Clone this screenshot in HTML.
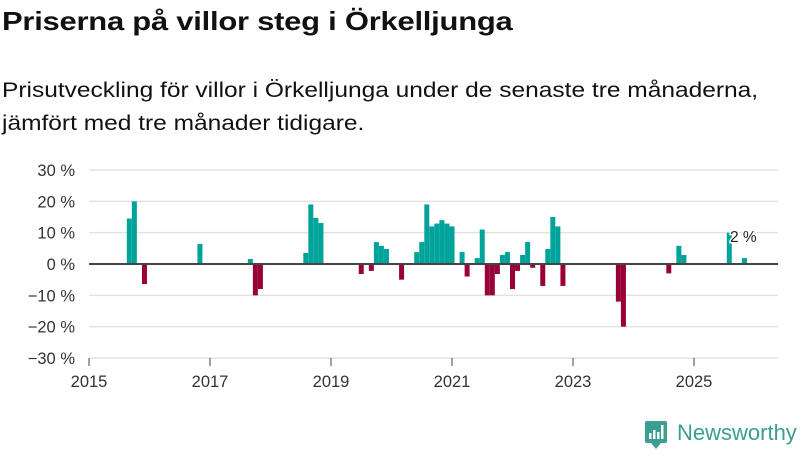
<!DOCTYPE html>
<html><head><meta charset="utf-8"><style>
body{margin:0;background:#fff;width:800px;height:450px;overflow:hidden;font-family:"Liberation Sans",sans-serif;color:#111}
h1{position:absolute;left:2px;top:6px;margin:0;font-size:26px;font-weight:bold;letter-spacing:-0.2px;transform:scaleX(1.19);transform-origin:0 0;white-space:nowrap}
p.sub{position:absolute;left:2px;top:74px;margin:0;font-size:21.5px;line-height:33px;white-space:nowrap;transform:scaleX(1.14);transform-origin:0 0}
svg{position:absolute;left:0;top:0}
</style></head><body>
<h1>Priserna på villor steg i Örkelljunga</h1>
<p class="sub">Prisutveckling för villor i Örkelljunga under de senaste tre månaderna,<br>jämfört med tre månader tidigare.</p>
<svg id="chart" width="800" height="450"></svg>
<script>
const months=[8,9,11,22,32,33,34,43,44,45,46,54,56,57,58,59,62,65,66,67,68,69,70,71,72,74,75,77,78,79,80,81,82,83,84,85,86,87,88,90,91,92,93,94,105,106,115,117,118,127,130];
const values=[14.5,20,-6.4,6.4,1.6,-10,-8,3.5,19,14.7,13.1,-3.2,-2.2,7,5.8,4.8,-5,3.8,7,19,12,12.9,14,12.9,12,3.8,-4,1.9,11,-10,-10,-3.2,2.9,3.8,-8,-2.2,2.9,7,-1.2,-7,4.8,15,12,-7,-12,-20,-3,5.8,2.9,10,1.9];
const yTicks=[30,20,10,0,-10,-20,-30];
const xTickYears=[2015,2017,2019,2021,2023,2025];
const NS="http://www.w3.org/2000/svg";
const svg=document.getElementById('chart');
const x=m=>89+m*60.5/12;
const y=v=>264-v*3.133;
function el(t,a,p){const e=document.createElementNS(NS,t);for(const k in a)e.setAttribute(k,a[k]);(p||svg).appendChild(e);return e;}
yTicks.forEach(t=>{
  const g=el('line',{x1:89,x2:778,y1:y(t),y2:y(t),stroke:'#e2e2e2','stroke-width':1.5});
  
  
  const lb=el('text',{x:75,y:y(t)+6,'text-anchor':'end','font-size':16.5,fill:'#333'});
  lb.textContent=(t<0?'−'+(-t):t)+' %';
  
  
});
xTickYears.forEach(yr=>{
  const xx=x((yr-2015)*12);
  const tk=el('line',{x1:xx,x2:xx,y1:358,y2:366,stroke:'#444','stroke-width':1});
  
  
  const lb=el('text',{x:xx,y:387,'text-anchor':'middle','font-size':16.5,fill:'#333'});
  lb.textContent=yr;
  
  
});
months.forEach((m,i)=>{
  const v=values[i];
  const r=el('rect',{x:x(m)-2.5,width:5,y:v>=0?y(v):y(0),height:Math.abs(y(v)-y(0)),fill:v>=0?'#00a39a':'#990038'});
  
  
});
const z=el('line',{x1:89,x2:778,y1:y(0),y2:y(0),stroke:'#444','stroke-width':2});


const lbl=el('text',{x:730,y:242,'font-size':15.5,fill:'#222',stroke:'#fff','stroke-width':3,'paint-order':'stroke'});
lbl.textContent='2 %';


const lg=el('g',{});


el('rect',{x:645,y:421,width:22,height:22,rx:2,fill:'#3a9e92'},lg);
el('path',{d:'M651 443 L656 449 L661 443 Z',fill:'#3a9e92'},lg);
el('rect',{x:649,y:433,width:2.5,height:6,fill:'#fff'},lg);
el('rect',{x:653,y:430,width:2.5,height:9,fill:'#fff'},lg);
el('rect',{x:657,y:432,width:2.5,height:7,fill:'#fff'},lg);
el('rect',{x:661,y:425,width:2.5,height:14,fill:'#fff'},lg);
const lt=el('text',{x:677,y:440,'font-size':22,fill:'#3a9e92'},lg);
lt.textContent='Newsworthy';
</script>
</body></html>
